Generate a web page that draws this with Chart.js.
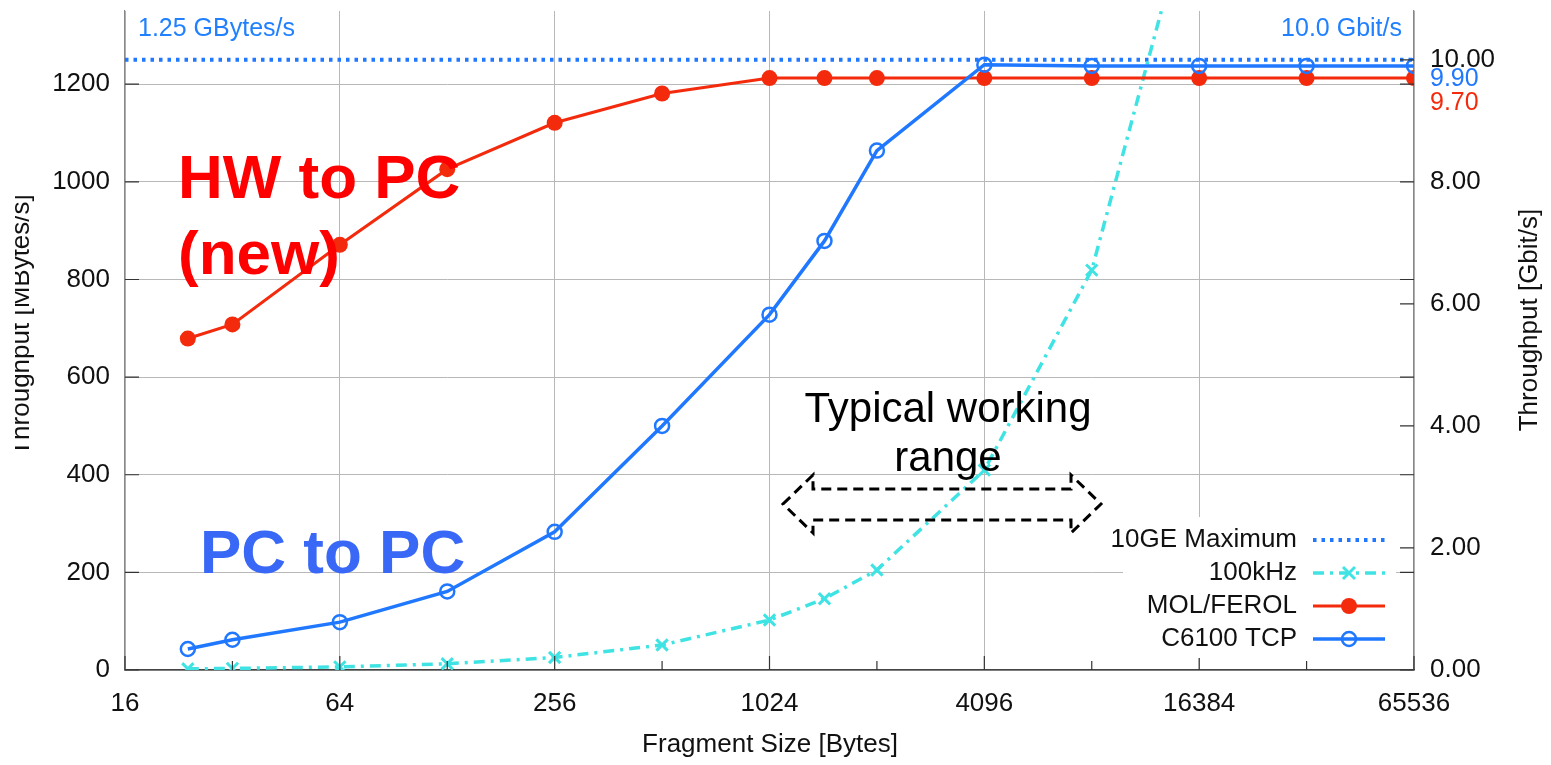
<!DOCTYPE html>
<html>
<head>
<meta charset="utf-8">
<script src="https://cdn.jsdelivr.net/npm/chart.js@4.4.1/dist/chart.umd.min.js"></script>
<style>
  html, body { margin: 0; padding: 0; background: #fff; }
  canvas { display: block; }
</style>
</head>
<body>
<canvas id="myChart" width="1551" height="765"></canvas>
<script>
// fragment sizes in bytes
const sizes = [24, 32, 64, 128, 256, 512, 1024, 1460, 2048, 4096, 8192, 16384, 32768, 65536];
// MOL/FEROL, MBytes/s
const ferol = [679, 708, 871, 1026, 1121, 1181, 1212.5, 1212.5, 1212.5, 1212.5, 1212.5, 1212.5, 1212.5, 1212.5];
// C6100 TCP, MBytes/s
const c6100 = [43, 62, 98, 161, 283, 500, 728, 879, 1064, 1240, 1237.5, 1237.5, 1237.5, 1237.5];
// 100kHz trigger rate, MBytes/s (sizes up to 16384)
const rate100k = [2.4, 3.2, 6.4, 12.8, 25.6, 51.2, 102.4, 146, 204.8, 409.6, 819.2, 1638.4];
// 10GE maximum
const maxSizes = [16, 65536];
const maxRate = [1250, 1250];

const xTicks = [16, 64, 256, 1024, 4096, 16384, 65536];
const xMinor = [32, 128, 512, 2048, 8192, 32768];
const yTicks = [0, 200, 400, 600, 800, 1000, 1200];
const y2Ticks = [0, 2, 4, 6, 8, 10];

const BLUE = '#1f78ff';
const RED = '#f42a0c';
const CYAN = '#40e3e3';
const FONT = '"Liberation Sans", Arial, Helvetica, sans-serif';

function pts(xs, ys) {
    return ys.map((v, i) => ({ x: xs[i], y: v }));
}

const ctx = document.getElementById('myChart').getContext('2d');

const extras = {
    id: 'extras',
    afterDatasetsDraw(chart) {
        const c = chart.ctx;
        const a = chart.chartArea;
        const ys = chart.scales.y;
        const y2s = chart.scales.y2;
        const xs = chart.scales.x;

        c.save();
        // inner tick marks
        c.strokeStyle = '#333';
        c.lineWidth = 1.2;
        c.beginPath();
        yTicks.forEach(v => {
            const p = ys.getPixelForValue(v);
            c.moveTo(a.left, p); c.lineTo(a.left + 14, p);
            c.moveTo(a.right, p); c.lineTo(a.right - 14, p);
        });
        y2Ticks.forEach(v => {
            const p = y2s.getPixelForValue(v);
            c.moveTo(a.right, p); c.lineTo(a.right - 14, p);
        });
        xTicks.forEach(v => {
            const p = xs.getPixelForValue(v);
            c.moveTo(p, a.bottom); c.lineTo(p, a.bottom - 14);
        });
        xMinor.forEach(v => {
            const p = xs.getPixelForValue(v);
            c.moveTo(p, a.bottom); c.lineTo(p, a.bottom - 9);
        });
        c.stroke();

        // legend box
        c.fillStyle = '#fff';
        c.fillRect(1123, 517, 273, 141);
        const entries = [
            { label: '10GE Maximum', color: BLUE, dash: [3.5, 5], width: 4, mark: null },
            { label: '100kHz', color: CYAN, dash: [11, 6, 3, 6], width: 3.5, mark: 'cross' },
            { label: 'MOL/FEROL', color: RED, dash: [], width: 3, mark: 'dot' },
            { label: 'C6100 TCP', color: BLUE, dash: [], width: 3.5, mark: 'ring' }
        ];
        const rowsY = [540, 573, 606, 639];
        c.font = '26px ' + FONT;
        c.textAlign = 'right';
        c.textBaseline = 'middle';
        entries.forEach((e, i) => {
            const y = rowsY[i];
            c.fillStyle = '#111';
            c.fillText(e.label, 1297, y);
            c.strokeStyle = e.color;
            c.lineWidth = e.width;
            c.setLineDash(e.dash);
            c.beginPath();
            c.moveTo(1313, y); c.lineTo(1385, y);
            c.stroke();
            c.setLineDash([]);
            const mx = 1349;
            if (e.mark === 'dot') {
                c.fillStyle = e.color;
                c.beginPath(); c.arc(mx, y, 8, 0, Math.PI * 2); c.fill();
            } else if (e.mark === 'ring') {
                c.lineWidth = 2.5;
                c.beginPath(); c.arc(mx, y, 7, 0, Math.PI * 2); c.stroke();
            } else if (e.mark === 'cross') {
                c.lineWidth = 3;
                c.beginPath();
                c.moveTo(mx - 6, y - 6); c.lineTo(mx + 6, y + 6);
                c.moveTo(mx + 6, y - 6); c.lineTo(mx - 6, y + 6);
                c.stroke();
            }
        });

        // annotations
        c.textAlign = 'left';
        c.textBaseline = 'alphabetic';
        c.font = '25px ' + FONT;
        c.fillStyle = '#2080ff';
        c.fillText('1.25 GBytes/s', 138, 36);
        c.textAlign = 'right';
        c.fillText('10.0 Gbit/s', 1402, 36);

        c.textAlign = 'left';
        c.font = '25px ' + FONT;
        c.textBaseline = 'middle';
        c.fillStyle = BLUE;
        c.fillText('9.90', a.right + 16, 79);
        c.fillStyle = RED;
        c.fillText('9.70', a.right + 16, 103);

        c.textBaseline = 'alphabetic';
        c.font = 'bold 62px ' + FONT;
        c.fillStyle = '#ff0000';
        c.fillText('HW to PC', 178, 198);
        c.fillText('(new)', 178, 274);
        c.fillStyle = '#3868f5';
        c.fillText('PC to PC', 200, 573);

        c.font = '42px ' + FONT;
        c.fillStyle = '#000';
        c.textAlign = 'center';
        c.fillText('Typical working', 948, 422);
        c.fillText('range', 948, 471);

        // dashed double arrow
        c.strokeStyle = '#000';
        c.lineWidth = 3;
        c.setLineDash([10, 6]);
        c.beginPath();
        c.moveTo(783, 504);
        c.lineTo(813, 475);
        c.lineTo(813, 489);
        c.lineTo(1071, 489);
        c.lineTo(1071, 475);
        c.lineTo(1101, 504);
        c.lineTo(1071, 533);
        c.lineTo(1071, 520);
        c.lineTo(813, 520);
        c.lineTo(813, 533);
        c.closePath();
        c.stroke();
        c.setLineDash([]);

        // axis titles
        c.font = '26px ' + FONT;
        c.fillStyle = '#111';
        c.textAlign = 'center';
        c.textBaseline = 'alphabetic';
        c.fillText('Fragment Size [Bytes]', 770, 752);

        c.save();
        c.beginPath();
        c.rect(15, 0, 100, 765);
        c.clip();
        c.translate(29, 325);
        c.rotate(-Math.PI / 2);
        c.fillText('Throughput [MBytes/s]', 0, 0);
        c.restore();

        c.save();
        c.translate(1537, 320);
        c.rotate(-Math.PI / 2);
        c.fillText('Throughput [Gbit/s]', 0, 0);
        c.restore();

        c.restore();
    }
};

Chart.defaults.font.family = FONT;
Chart.defaults.font.size = 26;
Chart.defaults.color = '#111';

const myChart = new Chart(ctx, {
    type: 'line',
    data: {
        datasets: [{
            label: 'C6100 TCP',
            data: pts(sizes, c6100),
            borderColor: BLUE,
            borderWidth: 3.5,
            pointStyle: 'circle',
            pointRadius: 7,
            pointBorderWidth: 2.5,
            pointBorderColor: BLUE,
            pointBackgroundColor: 'rgba(255,255,255,0)',
            order: 0
        }, {
            label: 'MOL/FEROL',
            data: pts(sizes, ferol),
            borderColor: RED,
            borderWidth: 3,
            pointStyle: 'circle',
            pointRadius: 8,
            pointBorderWidth: 0,
            pointBackgroundColor: RED,
            order: 1
        }, {
            label: '100kHz',
            data: pts(sizes, rate100k),
            borderColor: CYAN,
            borderWidth: 3.5,
            borderDash: [11, 6, 3, 6],
            pointStyle: 'crossRot',
            pointRadius: 8,
            pointBorderWidth: 3,
            pointBorderColor: CYAN,
            order: 2
        }, {
            label: '10GE Maximum',
            data: pts(maxSizes, maxRate),
            borderColor: BLUE,
            borderWidth: 4,
            borderDash: [3.5, 5],
            pointRadius: 0,
            order: 3
        }]
    },
    options: {
        responsive: false,
        animation: false,
        devicePixelRatio: 1,
        layout: { padding: { top: 8, left: 0, right: 0, bottom: 0 } },
        plugins: {
            legend: { display: false },
            tooltip: { enabled: false }
        },
        scales: {
            x: {
                type: 'logarithmic',
                min: 16,
                max: 65536,
                afterBuildTicks: s => { s.ticks = xTicks.map(v => ({ value: v })); },
                afterFit: s => { s.height = 95; s.paddingLeft = 0; s.paddingRight = 0; },
                ticks: {
                    autoSkip: false,
                    maxRotation: 0,
                    padding: 18,
                    color: '#111',
                    callback: v => String(v)
                },
                grid: { color: '#b8b8b8', lineWidth: 1, drawTicks: false },
                border: { display: true, color: '#444', width: 1.5 }
            },
            y: {
                type: 'linear',
                position: 'left',
                min: 0,
                max: 1350,
                afterBuildTicks: s => { s.ticks = yTicks.map(v => ({ value: v })); },
                afterFit: s => { s.width = 125; s.paddingTop = 0; s.paddingBottom = 0; },
                ticks: { padding: 15, color: '#111', callback: v => String(v) },
                grid: { color: '#b8b8b8', lineWidth: 1, drawTicks: false },
                border: { display: true, color: '#888', width: 1.2 }
            },
            y2: {
                type: 'linear',
                position: 'right',
                min: 0,
                max: 10.8,
                afterBuildTicks: s => { s.ticks = y2Ticks.map(v => ({ value: v })); },
                afterFit: s => { s.width = 137; s.paddingTop = 0; s.paddingBottom = 0; },
                ticks: { padding: 16, color: '#111', callback: v => v.toFixed(2) },
                grid: { drawOnChartArea: false, drawTicks: false },
                border: { display: true, color: '#888', width: 1.2 }
            }
        }
    },
    plugins: [extras]
});
</script>
</body>
</html>
